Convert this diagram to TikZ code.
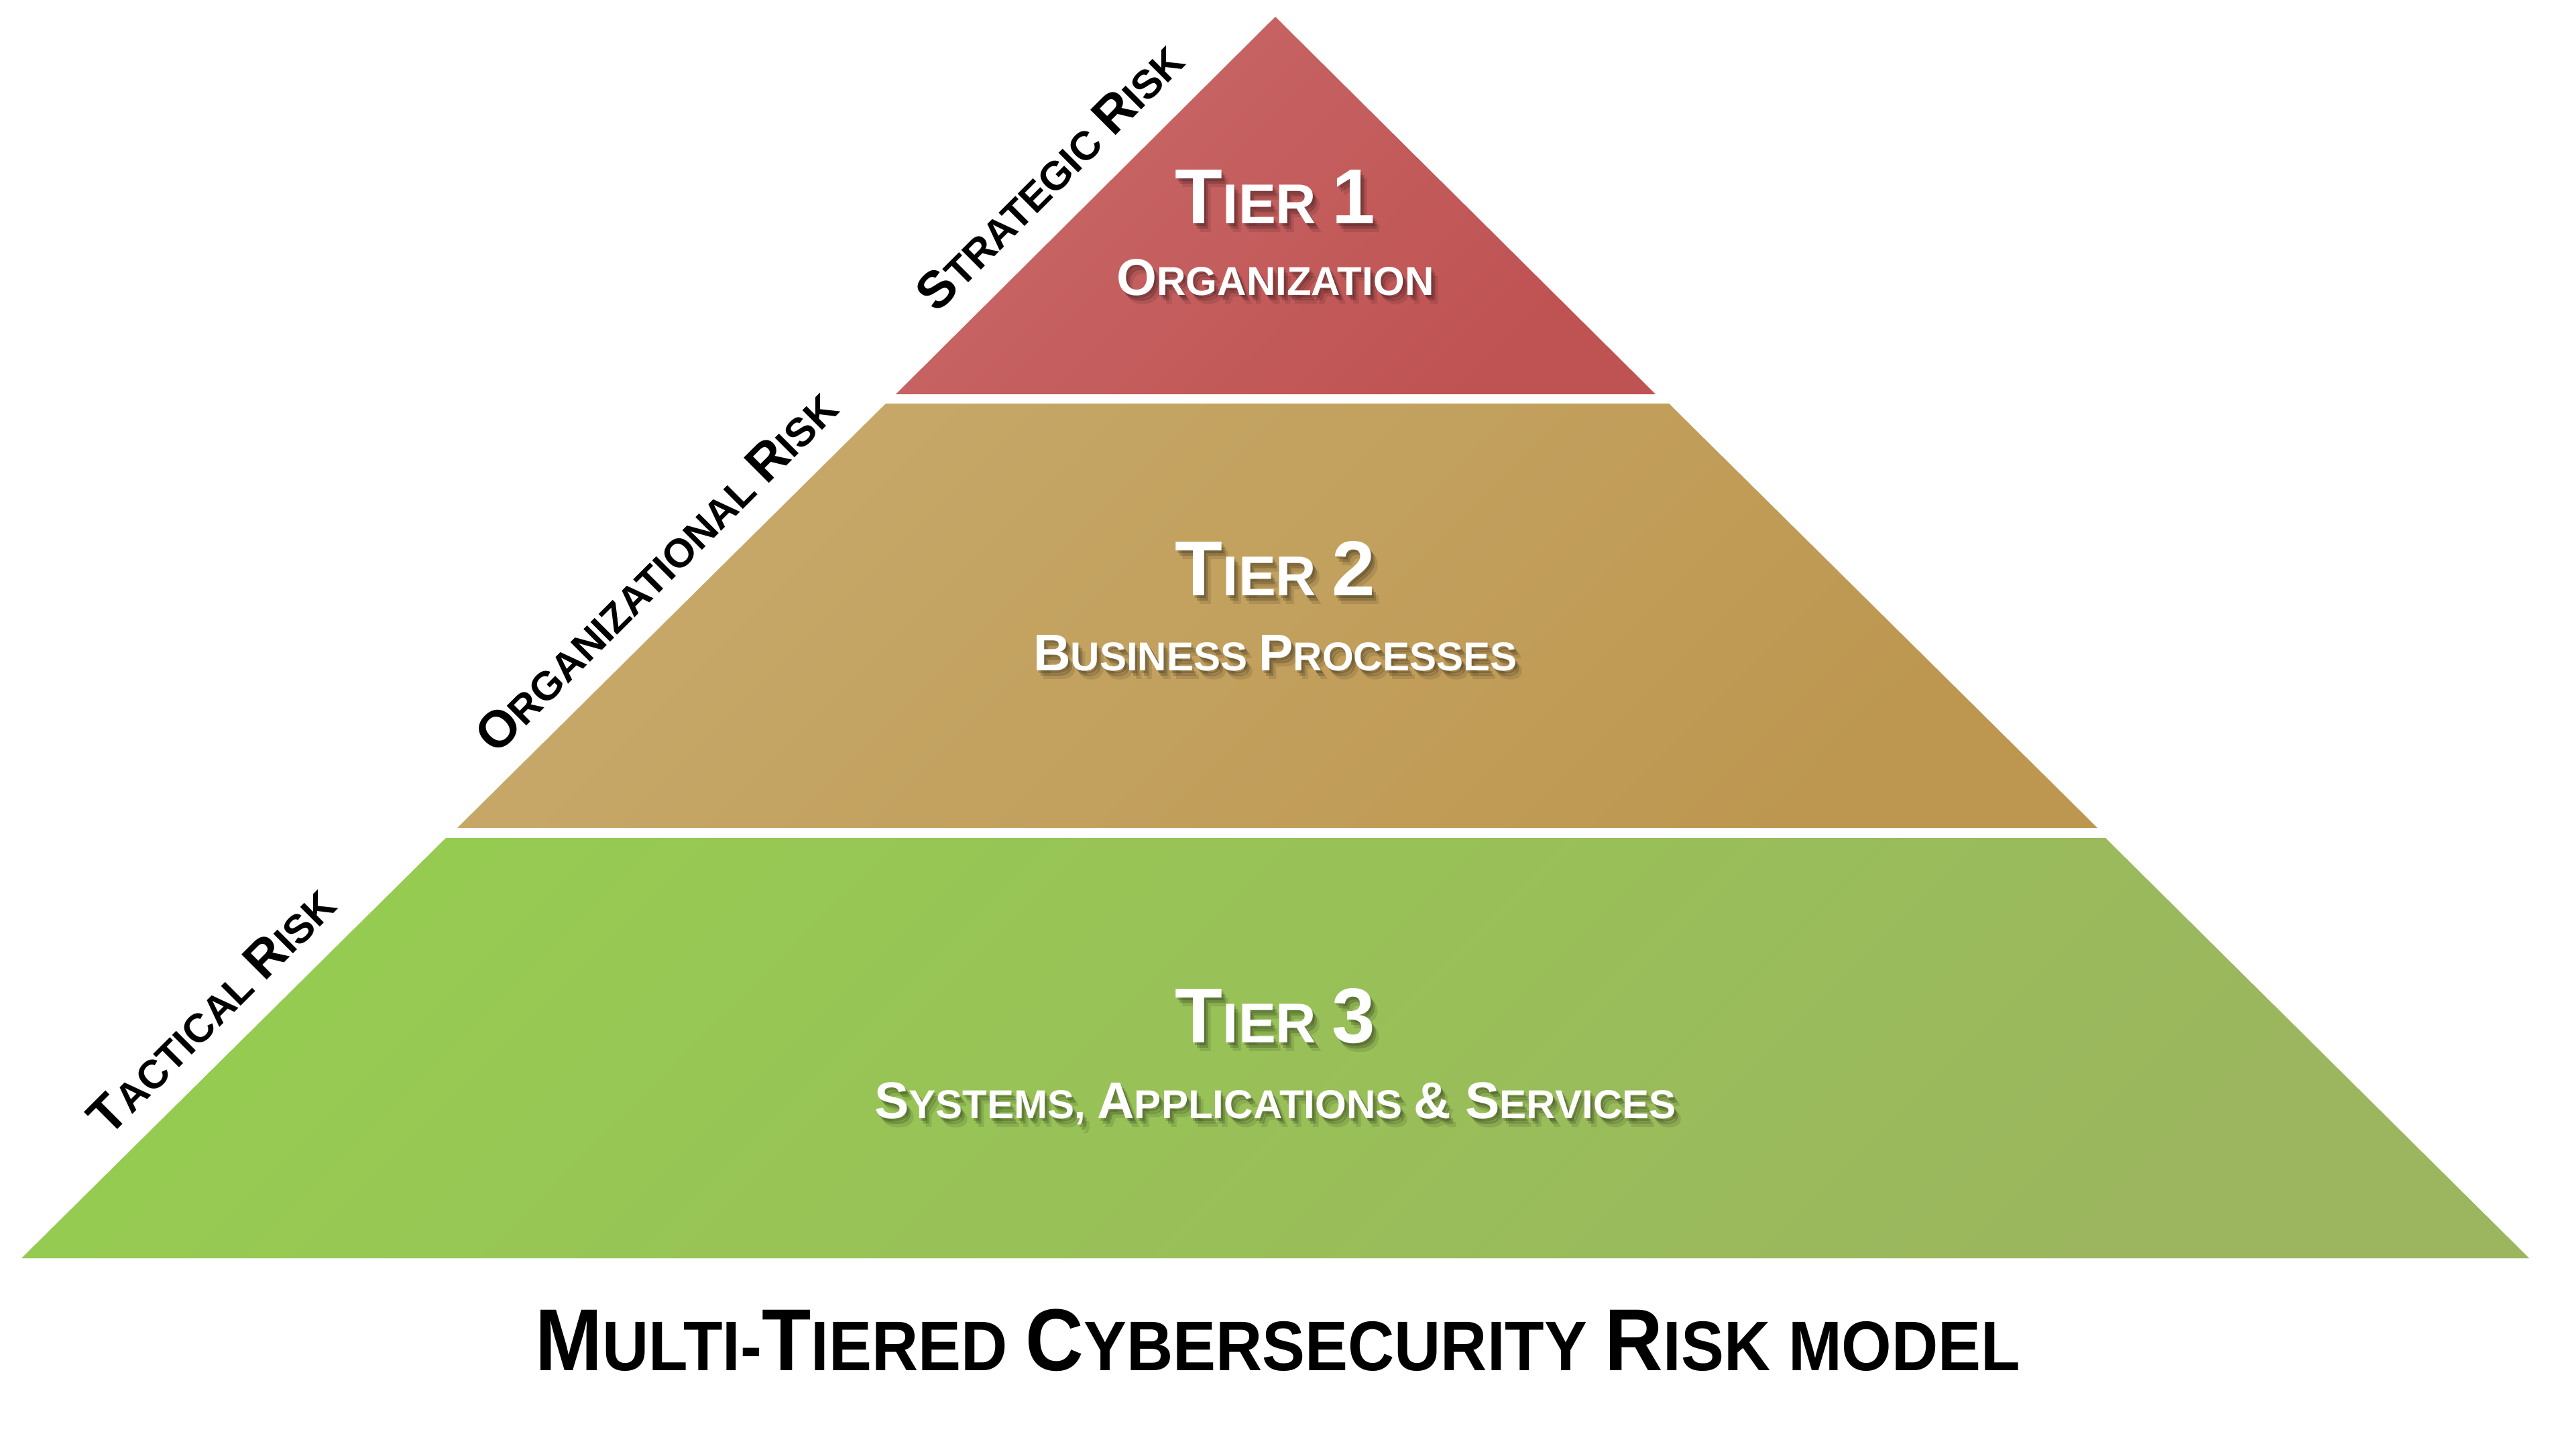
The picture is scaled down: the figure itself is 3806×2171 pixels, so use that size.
\documentclass[tikz,border=0pt]{standalone}
\usepackage{fontspec}
\setmainfont{Liberation Sans}
\newfontfamily\titlefont{Liberation Sans}[FakeStretch=0.915]
\usetikzlibrary{calc}
\definecolor{tAL}{HTML}{C96868}
\definecolor{tAD}{HTML}{BF5252}
\definecolor{tBL}{HTML}{C7A96A}
\definecolor{tBD}{HTML}{BD9750}
\definecolor{tCL}{HTML}{96CB52}
\definecolor{tCD}{HTML}{9BB65E}
\newcommand\hdbig{\fontsize{33}{36}\selectfont}
\newcommand\hdsm{\fontsize{23.8}{26}\selectfont}
\newcommand\sbbig{\fontsize{21.9}{24}\selectfont}
\newcommand\sbsm{\fontsize{17.1}{20}\selectfont}
\newcommand\sdbig{\fontsize{22}{24}\selectfont}
\newcommand\sdsm{\fontsize{17.1}{20}\selectfont}
\newcommand\ttbig{\fontsize{37.3}{40}\selectfont}
\newcommand\ttsm{\fontsize{29.8}{32}\selectfont}
\newcommand\shadowed[3]{%
  \node[tierlbl, text=black, text opacity=.10] at ([shift={(10,13)}]#2) {#3};
  \node[tierlbl, text=black, text opacity=.18] at ([shift={(6,8)}]#2) {#3};
  \node[tierlbl, text=black, text opacity=.18] at ([shift={(3,4)}]#2) {#3};
  \node[tierlbl, text=white] (#1) at (#2) {#3};}
\begin{document}
\begin{tikzpicture}[x=0.01cm,y=-0.01cm,
  tierlbl/.style={anchor=base, inner sep=0pt, font=\bfseries},
  sidelbl/.style={anchor=base, inner sep=0pt, font=\bfseries, rotate=45, text=black},
  titlelbl/.style={anchor=base, inner sep=0pt, font=\titlefont\bfseries, text=black}]
\useasboundingbox (0,0) rectangle (3806,2171);
\fill[white] (0,0) rectangle (3806,2171);
% geometry
\coordinate (apex) at (1902,25);
\coordinate (aR) at (2469,588);
\coordinate (aL) at (1336,588);
\coordinate (bTL) at (1321,602);
\coordinate (bTR) at (2489,602);
\coordinate (bBR) at (3128,1235);
\coordinate (bBL) at (682,1235);
\coordinate (cTL) at (665,1250);
\coordinate (cTR) at (3140,1250);
\coordinate (cBR) at (3772,1877);
\coordinate (cBL) at (32,1877);
% tiers
\shade[top color=tAL, bottom color=tAD, shading angle=45] (apex) -- (aR) -- (aL) -- cycle;
\shade[top color=tBL, bottom color=tBD, shading angle=45] (bTL) -- (bTR) -- (bBR) -- (bBL) -- cycle;
\shade[top color=tCL, bottom color=tCD, shading angle=45] (cTL) -- (cTR) -- (cBR) -- (cBL) -- cycle;
% tier texts
\coordinate (h1) at (1902,333);
\coordinate (s1) at (1902,440);
\coordinate (h2) at (1902,888);
\coordinate (s2) at (1902,1000);
\coordinate (h3) at (1902,1555);
\coordinate (s3) at (1902,1668);
\shadowed{tierA}{h1}{\hdbig T\hdsm IER \hdbig 1}
\shadowed{subA}{s1}{\sbbig O\sbsm RGANIZATION}
\shadowed{tierB}{h2}{\hdbig T\hdsm IER \hdbig 2}
\shadowed{subB}{s2}{\sbbig B\sbsm USINESS \sbbig P\sbsm ROCESSES}
\shadowed{tierC}{h3}{\hdbig T\hdsm IER \hdbig 3}
\shadowed{subC}{s3}{\sbbig S\sbsm YSTEMS, \sbbig A\sbsm PPLICATIONS \sbbig\& S\sbsm ERVICES}
% side labels
\node[sidelbl] (strat) at (1584,282) {\sdbig S\sdsm TRATEGIC \sdbig R\sdsm ISK};
\node[sidelbl] (orgr) at (997,871) {\sdbig O\sdsm RGANIZATIONAL \sdbig R\sdsm ISK};
\node[sidelbl] (tact) at (334,1526) {\sdbig T\sdsm ACTICAL \sdbig R\sdsm ISK};
% title
\node[titlelbl] (title) at (1906,2044) {\ttbig M\ttsm ULTI-\ttbig T\ttsm IERED \ttbig C\ttsm YBERSECURITY \ttbig R\ttsm ISK MODEL};
\end{tikzpicture}
\end{document}
